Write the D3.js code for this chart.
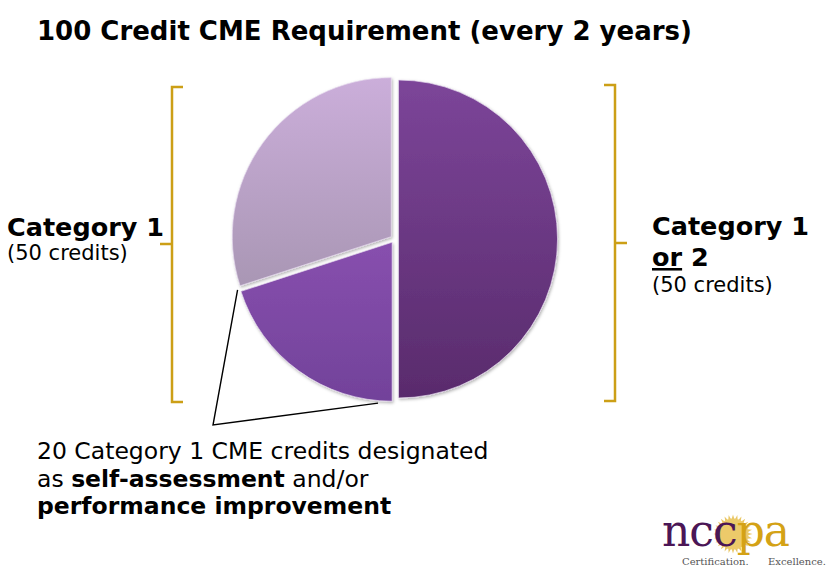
<!DOCTYPE html>
<html>
<head>
<meta charset="utf-8">
<script src="https://cdn.jsdelivr.net/npm/d3@7"></script>
<style>
  body { margin: 0; background: #fff; }
  svg { display: block; }
  text { font-family: "DejaVu Sans", Verdana, sans-serif; }
</style>
</head>
<body>
<div id="chart"></div>
<script>
// slices, clockwise from 12 o'clock
const slices = ["Category 1 or 2", "Self-assessment / PI", "Category 1"];
const credits = [50, 20, 30];

const titleText = "100 Credit CME Requirement (every 2 years)";
const leftLabel = ["Category 1", "(50 credits)"];
const rightLabel = ["Category 1", "or", "2", "(50 credits)"];
const noteLines = [
  [{ t: "20 Category 1 CME credits designated", b: false }],
  [{ t: "as ", b: false }, { t: "self-assessment", b: true }, { t: " and/or", b: false }],
  [{ t: "performance improvement", b: true }]
];

const width = 834, height = 576;
const cx = 394.5, cy = 239, radius = 159;
const explode = 4;
const gold = "#cc9f16";

const svg = d3.select("#chart")
  .append("svg")
  .attr("width", width)
  .attr("height", height);

const defs = svg.append("defs");

// vertical gradients, one per slice (in pie-local coords)
const grads = [
  ["#7c4599", "#592b6c"],
  ["#9d5dc2", "#72429a"],
  ["#cbaeda", "#978aa0"]
];
grads.forEach((g, i) => {
  const lg = defs.append("linearGradient")
    .attr("id", "g" + i)
    .attr("gradientUnits", "userSpaceOnUse")
    .attr("x1", 0).attr("x2", 0)
    .attr("y1", -radius).attr("y2", radius);
  lg.append("stop").attr("offset", "0%").attr("stop-color", g[0]);
  lg.append("stop").attr("offset", "100%").attr("stop-color", g[1]);
});

const shadow = defs.append("filter").attr("id", "shadow")
  .attr("x", "-10%").attr("y", "-10%").attr("width", "120%").attr("height", "120%");
shadow.append("feDropShadow")
  .attr("dx", 1).attr("dy", 1.5).attr("stdDeviation", 1.5)
  .attr("flood-color", "#000").attr("flood-opacity", 0.3);

// title
svg.append("text")
  .attr("x", 37).attr("y", 40)
  .attr("font-size", 26).attr("font-weight", "bold")
  .text(titleText);

// pie
const pie = d3.pie().sort(null).value(d => d);
const arcs = pie(credits);
const arc = d3.arc().innerRadius(0).outerRadius(radius);

const g = svg.append("g").attr("transform", `translate(${cx},${cy})`);
g.selectAll("path.slice")
  .data(arcs)
  .enter()
  .append("path")
  .attr("class", "slice")
  .attr("d", arc)
  .attr("transform", d => {
    const m = (d.startAngle + d.endAngle) / 2;
    return `translate(${Math.sin(m) * explode},${-Math.cos(m) * explode})`;
  })
  .attr("fill", (d, i) => `url(#g${i})`)
  .attr("stroke", "#e6d9ee")
  .attr("stroke-opacity", 0.7)
  .attr("stroke-width", 1)
  .attr("filter", "url(#shadow)");

// callout from the 20-credit slice
const callArc = d3.arc().innerRadius(radius + 6).outerRadius(radius + 6);
const small = arcs[1];
const pA = callArc.centroid({ startAngle: small.endAngle, endAngle: small.endAngle });
const pB = callArc.centroid({ startAngle: small.startAngle + 0.1, endAngle: small.startAngle + 0.1 });
const vertex = [213 - cx, 425 - cy];
g.append("path")
  .attr("d", d3.line()([pA, vertex, pB]))
  .attr("fill", "none")
  .attr("stroke", "#000")
  .attr("stroke-width", 1.4);

// brackets
function bracket(x, y0, y1, ym, dir) {
  // dir: +1 = opens right (left bracket), -1 = opens left
  const t = 11 * dir;
  const p = d3.path();
  p.moveTo(x + t, y0); p.lineTo(x, y0); p.lineTo(x, y1); p.lineTo(x + t, y1);
  p.moveTo(x, ym); p.lineTo(x - 12 * dir, ym);
  svg.append("path")
    .attr("d", p.toString())
    .attr("fill", "none")
    .attr("stroke", gold)
    .attr("stroke-width", 2.5);
}
bracket(172, 87, 402, 244, 1);
bracket(615, 85, 401, 243, -1);

// left label
svg.append("text").attr("x", 7).attr("y", 236)
  .attr("font-size", 25.5).attr("font-weight", "bold").text(leftLabel[0]);
svg.append("text").attr("x", 7).attr("y", 260)
  .attr("font-size", 21).text(leftLabel[1]);

// right label
svg.append("text").attr("x", 652).attr("y", 235)
  .attr("font-size", 25.5).attr("font-weight", "bold").text(rightLabel[0]);
const or2 = svg.append("text").attr("x", 652).attr("y", 266)
  .attr("font-size", 25.5).attr("font-weight", "bold");
or2.append("tspan").attr("text-decoration", "underline").text(rightLabel[1]);
or2.append("tspan").text(" " + rightLabel[2]);
svg.append("text").attr("x", 652).attr("y", 292)
  .attr("font-size", 21).text(rightLabel[3]);

// note below pie
noteLines.forEach((line, i) => {
  const t = svg.append("text").attr("x", 37).attr("y", 459 + i * 27.5)
    .attr("font-size", 23.5);
  line.forEach(s => t.append("tspan")
    .attr("font-weight", s.b ? "bold" : "normal")
    .text(s.t));
});

// nccpa logo
const serif = "'DejaVu Serif', 'Liberation Serif', serif";
const logo = svg.append("g").attr("transform", "translate(662,546)");
const sun = logo.append("g").attr("transform", "translate(71,-12)");
d3.range(28).forEach(k => {
  const a = k / 28 * 2 * Math.PI;
  sun.append("path")
    .attr("d", d3.line()([[Math.cos(a - 0.09) * 15, Math.sin(a - 0.09) * 15],
      [Math.cos(a) * 19.5, Math.sin(a) * 19.5],
      [Math.cos(a + 0.09) * 15, Math.sin(a + 0.09) * 15]]))
    .attr("fill", "#e9c766");
});
sun.append("circle").attr("r", 15.5).attr("fill", "#ecca6a");
const word = logo.append("text")
  .style("font-family", serif)
  .attr("font-size", 44)
  .attr("letter-spacing", -1);
word.append("tspan").attr("fill", "#4b1656").text("ncc");
word.append("tspan").attr("fill", "#d4a216").text("pa");
logo.append("text")
  .attr("x", 20).attr("y", 19)
  .style("font-family", serif)
  .attr("font-size", 10)
  .attr("fill", "#555")
  .text("Certification.");
logo.append("text")
  .attr("x", 106).attr("y", 19)
  .style("font-family", serif)
  .attr("font-size", 10)
  .attr("fill", "#555")
  .text("Excellence.");
</script>
</body>
</html>
